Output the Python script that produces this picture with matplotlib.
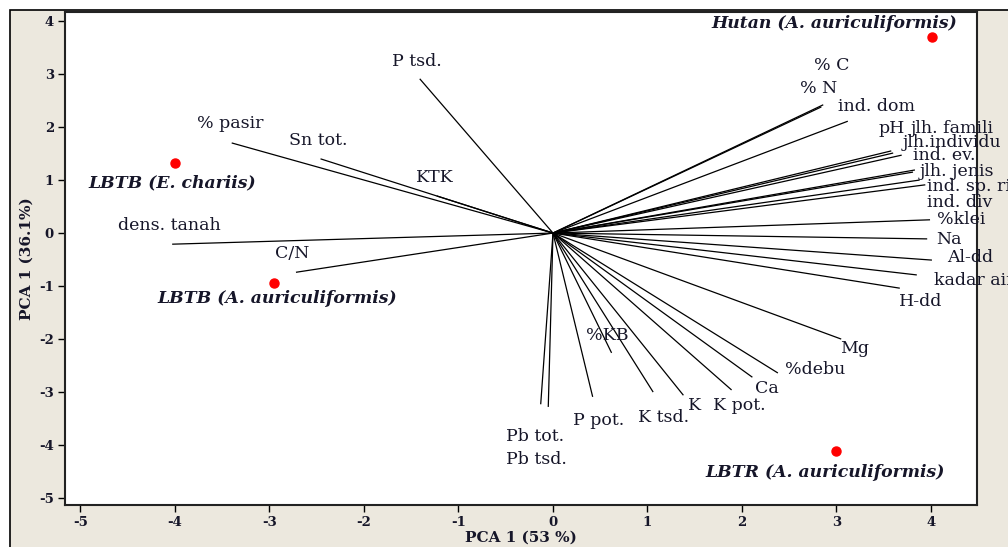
import matplotlib
matplotlib.use("Agg")
import matplotlib.pyplot as plt
from matplotlib.patches import Rectangle

# ---- data ----
var_names = ["% C", "% N", "ind. dom", "pH", "jlh. famili", "jlh.individu", "ind. ev.",
             "jlh. jenis", "ind. sp. rich", "ind. div", "%klei", "Na", "Al-dd", "kadar air",
             "H-dd", "Mg", "%debu", "Ca", "K pot.", "K", "K tsd.", "%KB", "P pot.",
             "Pb tot.", "Pb tsd.", "P tsd.", "% pasir", "Sn tot.", "KTK", "dens. tanah", "C/N"]
var_x = [2.86, 2.84, 3.12, 3.58, 3.60, 3.69, 3.81, 3.83, 3.88, 3.94, 3.99, 3.96, 4.01, 3.85,
         3.67, 3.05, 2.38, 2.11, 1.89, 1.38, 1.06, 0.62, 0.42, -0.13, -0.05, -1.41, -3.40,
         -2.46, -1.23, -4.03, -2.72]
var_y = [2.42, 2.38, 2.11, 1.55, 1.51, 1.47, 1.15, 1.19, 1.00, 0.91, 0.25, -0.11, -0.51, -0.79,
         -1.04, -2.00, -2.64, -2.72, -2.96, -3.06, -3.00, -2.26, -3.09, -3.23, -3.28, 2.91, 1.70,
         1.40, 0.70, -0.21, -0.74]

site_names = ["Hutan (A. auriculiformis)", "LBTB (E. chariis)",
              "LBTB (A. auriculiformis)", "LBTR (A. auriculiformis)"]
site_x = [4.01, -4.00, -2.95, 2.99]
site_y = [3.70, 1.32, -0.94, -4.11]

x_ticks = [-5, -4, -3, -2, -1, 0, 1, 2, 3, 4]
y_ticks = [-5, -4, -3, -2, -1, 0, 1, 2, 3, 4]
x_label = "PCA 1 (53 %)"
y_label = "PCA 1 (36.1%)"

# ---- layout (label positions, left edge / vertical centre, data units) ----
var_label_pos = [(2.76, 3.17), (2.61, 2.72), (3.02, 2.38), (3.44, 1.97), (3.79, 1.97),
                 (3.70, 1.71), (3.81, 1.46), (3.88, 1.17), (3.96, 0.87), (3.96, 0.57),
                 (4.06, 0.25), (4.05, -0.13), (4.17, -0.47), (4.03, -0.89), (3.66, -1.30),
                 (3.04, -2.17), (2.46, -2.58), (2.14, -2.94), (1.69, -3.26), (1.43, -3.26),
                 (0.90, -3.47), (0.35, -1.94), (0.21, -3.53), (-0.50, -3.83), (-0.50, -4.28),
                 (-1.70, 3.23), (-3.77, 2.06), (-2.79, 1.75), (-1.45, 1.04), (-4.60, 0.15),
                 (-2.94, -0.38)]
site_label_pos = [(1.68, 3.96), (-4.92, 0.94), (-4.19, -1.23), (1.61, -4.51)]

bg = "#ece8de"
txtc = "#161629"
serif = ["DejaVu Serif"]

fig = plt.figure(figsize=(10.08, 5.47), dpi=100)
fig.patch.set_facecolor("white")
W, H = 1008.0, 547.0
frame = Rectangle((10 / W, -0.05), 1.1, (547 - 10) / H + 0.05, transform=fig.transFigure,
                  facecolor=bg, edgecolor="black", linewidth=1.2, zorder=-10)
fig.add_artist(frame)

ax = fig.add_axes([65 / W, 1 - 505 / H, (977 - 65) / W, (505 - 12) / H])
ax.set_zorder(5)
ax.set_facecolor("white")
ax.set_xlim(-5.164, 4.487)
ax.set_ylim(-5.13, 4.17)

for x, y in zip(var_x, var_y):
    ax.plot([0, x], [0, y], color="black", linewidth=0.9, solid_capstyle="butt")

for name, (lx, ly) in zip(var_names, var_label_pos):
    ax.text(lx, ly, name, ha="left", va="center", fontsize=12.5, family=serif,
            color=txtc, clip_on=False)

ax.plot(site_x, site_y, "o", color="#ff0000", markersize=6.5, linestyle="none")
for name, (lx, ly) in zip(site_names, site_label_pos):
    ax.text(lx, ly, name, ha="left", va="center", fontsize=12.4, family=serif,
            fontweight="bold", fontstyle="italic", color=txtc)

ax.set_xticks(x_ticks)
ax.set_yticks(y_ticks)
ax.set_xticklabels([str(v) for v in x_ticks], family=serif, fontsize=9.5, fontweight="bold", color=txtc)
ax.set_yticklabels([str(v) for v in y_ticks], family=serif, fontsize=9.5, fontweight="bold", color=txtc)
ax.tick_params(direction="out", length=5, width=1.0, color="black", pad=3)
for s in ax.spines.values():
    s.set_linewidth(1.5)
    s.set_color("#222222")

ax.set_xlabel(x_label, family=serif, fontsize=11, fontweight="bold", color=txtc, labelpad=1)
ax.set_ylabel(y_label, family=serif, fontsize=11, fontweight="bold", color=txtc, labelpad=4)

fig.savefig("out.png", dpi=100, facecolor="white")
